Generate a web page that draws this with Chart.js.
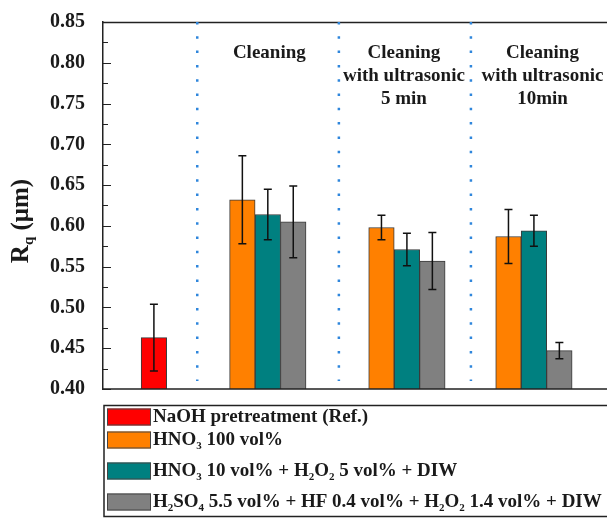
<!DOCTYPE html>
<html>
<head>
<meta charset="utf-8">
<script src="https://cdn.jsdelivr.net/npm/chart.js@4.4.0/dist/chart.umd.min.js"></script>
<style>
    html, body { margin: 0; padding: 0; background: #ffffff; }
    #wrap { width: 607px; height: 518px; }
</style>
</head>
<body>
<div id="wrap"><canvas id="rqChart" width="607" height="518"></canvas></div>
<script>
// Group labels (drawn at the top of each section), one per group
const groupLabels = [
    [],
    ['Cleaning'],
    ['Cleaning', 'with ultrasonic', '5 min'],
    ['Cleaning', 'with ultrasonic', '10min']
];

// Series names ("_x" = subscript character)
const seriesNames = [
    'NaOH pretreatment (Ref.)',
    'HNO_3 100 vol%',
    'HNO_3 10 vol% + H_2O_2 5 vol% + DIW',
    'H_2SO_4 5.5 vol% + HF 0.4 vol% + H_2O_2 1.4 vol% + DIW'
];

// Rq values (um) and error bars, per group
const naohValues = [0.463, null, null, null];
const naohErrors = [0.041, null, null, null];
const hno3Values = [null, 0.632, 0.598, 0.587];
const hno3Errors = [null, 0.054, 0.015, 0.033];
const mixValues = [null, 0.614, 0.571, 0.594];
const mixErrors = [null, 0.031, 0.020, 0.019];
const sulfValues = [null, 0.605, 0.557, 0.447];
const sulfErrors = [null, 0.044, 0.035, 0.010];

// Y axis ticks
const yMin = 0.40;
const yMax = 0.85;
const yStep = 0.05;

// Layout on the (hidden) linear x axis
const groupPos = [1.01, 3.27, 6.03, 8.55];
const separatorPos = [1.87, 4.68, 7.3];
const labelPos = [1.01, 3.3, 5.97, 8.72];
const slot = 0.505;

const colors = ['#ff0000', '#ff8000', '#008080', '#808080'];
const serif = '"Liberation Serif", "Times New Roman", serif';

// Turn values into {x, y} points for the linear x axis
function toPoints(values, offset) {
    const pts = [];
    values.forEach((v, i) => {
        if (v !== null) pts.push({ x: groupPos[i] + offset * slot, y: v, g: i });
    });
    return pts;
}

const allErrors = [naohErrors, hno3Errors, mixErrors, sulfErrors];

// Draw text where "_c" means subscript c
function drawRich(ctx, text, x, y, size) {
    let i = 0;
    while (i < text.length) {
        if (text[i] === '_' && i + 1 < text.length) {
            ctx.font = 'bold ' + Math.round(size * 0.6) + 'px ' + serif;
            ctx.fillText(text[i + 1], x, y + size * 0.3);
            x += ctx.measureText(text[i + 1]).width;
            i += 2;
        } else {
            let j = i;
            while (j < text.length && text[j] !== '_') j++;
            const part = text.slice(i, j);
            ctx.font = 'bold ' + size + 'px ' + serif;
            ctx.fillText(part, x, y);
            x += ctx.measureText(part).width;
            i = j;
        }
    }
    return x;
}

function richWidth(ctx, text, size) {
    ctx.save();
    const w = drawRich({
        set font(f) { ctx.font = f; },
        fillText() {},
        measureText: t => ctx.measureText(t)
    }, text, 0, 0, size);
    ctx.restore();
    return w;
}

// Plugin: frame, inside ticks, separators, error bars, labels, legend
const decorPlugin = {
    id: 'decor',
    afterDatasetsDraw(chart) {
        const ctx = chart.ctx;
        const area = chart.chartArea;
        const xs = chart.scales.x;
        const ys = chart.scales.y;
        ctx.save();

        // frame lines (top, bottom)
        ctx.strokeStyle = '#222';
        ctx.lineWidth = 1.5;
        ctx.beginPath();
        ctx.moveTo(area.left, area.top + 0.5);
        ctx.lineTo(area.right, area.top + 0.5);
        ctx.moveTo(area.left, area.bottom);
        ctx.lineTo(area.right, area.bottom);
        ctx.stroke();

        // inside ticks on y axis
        ctx.lineWidth = 1;
        for (let v = yMin; v <= yMax + 1e-9; v += yStep / 2) {
            const py = Math.round(ys.getPixelForValue(v)) + 0.5;
            const major = Math.abs(Math.round(v / yStep) * yStep - v) < 1e-6;
            ctx.beginPath();
            ctx.moveTo(area.left, py);
            ctx.lineTo(area.left + (major ? 8 : 5), py);
            ctx.stroke();
        }

        // dotted blue separators
        ctx.strokeStyle = '#2f86dc';
        ctx.lineWidth = 2.5;
        ctx.setLineDash([2.5, 11.8]);
        separatorPos.forEach(p => {
            const px = xs.getPixelForValue(p);
            ctx.beginPath();
            ctx.moveTo(px, area.top);
            ctx.lineTo(px, area.bottom - 8);
            ctx.stroke();
        });
        ctx.setLineDash([]);

        // error bars
        ctx.strokeStyle = '#111';
        ctx.lineWidth = 1.5;
        chart.data.datasets.forEach((ds, di) => {
            const meta = chart.getDatasetMeta(di);
            meta.data.forEach((el, k) => {
                const pt = ds.data[k];
                const e = allErrors[di][pt.g];
                if (e === null) return;
                const top = ys.getPixelForValue(pt.y + e);
                const bot = ys.getPixelForValue(pt.y - e);
                ctx.beginPath();
                ctx.moveTo(el.x, top);
                ctx.lineTo(el.x, bot);
                ctx.moveTo(el.x - 4, top);
                ctx.lineTo(el.x + 4, top);
                ctx.moveTo(el.x - 4, bot);
                ctx.lineTo(el.x + 4, bot);
                ctx.stroke();
            });
        });

        // group labels
        ctx.fillStyle = '#1a1a1a';
        ctx.font = 'bold 19px ' + serif;
        ctx.textAlign = 'center';
        ctx.textBaseline = 'middle';
        groupLabels.forEach((lines, i) => {
            const px = xs.getPixelForValue(labelPos[i]);
            lines.forEach((t, li) => ctx.fillText(t, px, 53 + li * 23));
        });

        // y axis title R_q (um), rotated
        ctx.save();
        ctx.translate(22, 221);
        ctx.rotate(-Math.PI / 2);
        ctx.textAlign = 'left';
        ctx.textBaseline = 'middle';
        const tw = richWidth(ctx, 'R_q (\u03bcm)', 25);
        drawRich(ctx, 'R_q (\u03bcm)', -tw / 2, 0, 25);
        ctx.restore();

        // legend box
        const boxTop = 405.5;
        ctx.strokeStyle = '#222';
        ctx.lineWidth = 1.5;
        ctx.strokeRect(area.left + 1, boxTop, 540, 111);
        const rowY = [417, 440, 471, 502];
        ctx.textAlign = 'left';
        ctx.textBaseline = 'middle';
        seriesNames.forEach((name, i) => {
            ctx.fillStyle = colors[i];
            ctx.fillRect(107, rowY[i] - 8.5, 44, 17);
            ctx.strokeStyle = '#444';
            ctx.lineWidth = 1;
            ctx.strokeRect(107.5, rowY[i] - 8, 43, 16);
            ctx.fillStyle = '#1a1a1a';
            drawRich(ctx, name, 153, rowY[i], 19);
        });

        ctx.restore();
    }
};

const ctx = document.getElementById('rqChart').getContext('2d');
new Chart(ctx, {
    type: 'bar',
    data: {
        datasets: [
            { label: seriesNames[0], data: toPoints(naohValues, 0), backgroundColor: colors[0] },
            { label: seriesNames[1], data: toPoints(hno3Values, -1), backgroundColor: colors[1] },
            { label: seriesNames[2], data: toPoints(mixValues, 0), backgroundColor: colors[2] },
            { label: seriesNames[3], data: toPoints(sulfValues, 1), backgroundColor: colors[3] }
        ].map(d => Object.assign(d, {
            borderColor: '#3a3a3a',
            borderWidth: 1,
            borderSkipped: 'bottom',
            barThickness: 25.5,
            grouped: false
        }))
    },
    options: {
        responsive: false,
        devicePixelRatio: 1,
        animation: false,
        layout: { padding: { left: 0, right: 0, top: 17, bottom: 129 } },
        plugins: {
            legend: { display: false },
            tooltip: { enabled: false }
        },
        scales: {
            x: {
                type: 'linear',
                min: 0,
                max: 10,
                offset: false,
                display: false
            },
            y: {
                min: yMin,
                max: yMax,
                grid: { display: false },
                border: { display: true, color: '#222', width: 1.5 },
                ticks: {
                    stepSize: yStep,
                    padding: 10,
                    color: '#1a1a1a',
                    font: { family: serif, size: 20, weight: 'bold' },
                    callback: v => v.toFixed(2)
                },
                afterFit: s => { s.width = 103; }
            }
        }
    },
    plugins: [decorPlugin]
});
</script>
</body>
</html>
